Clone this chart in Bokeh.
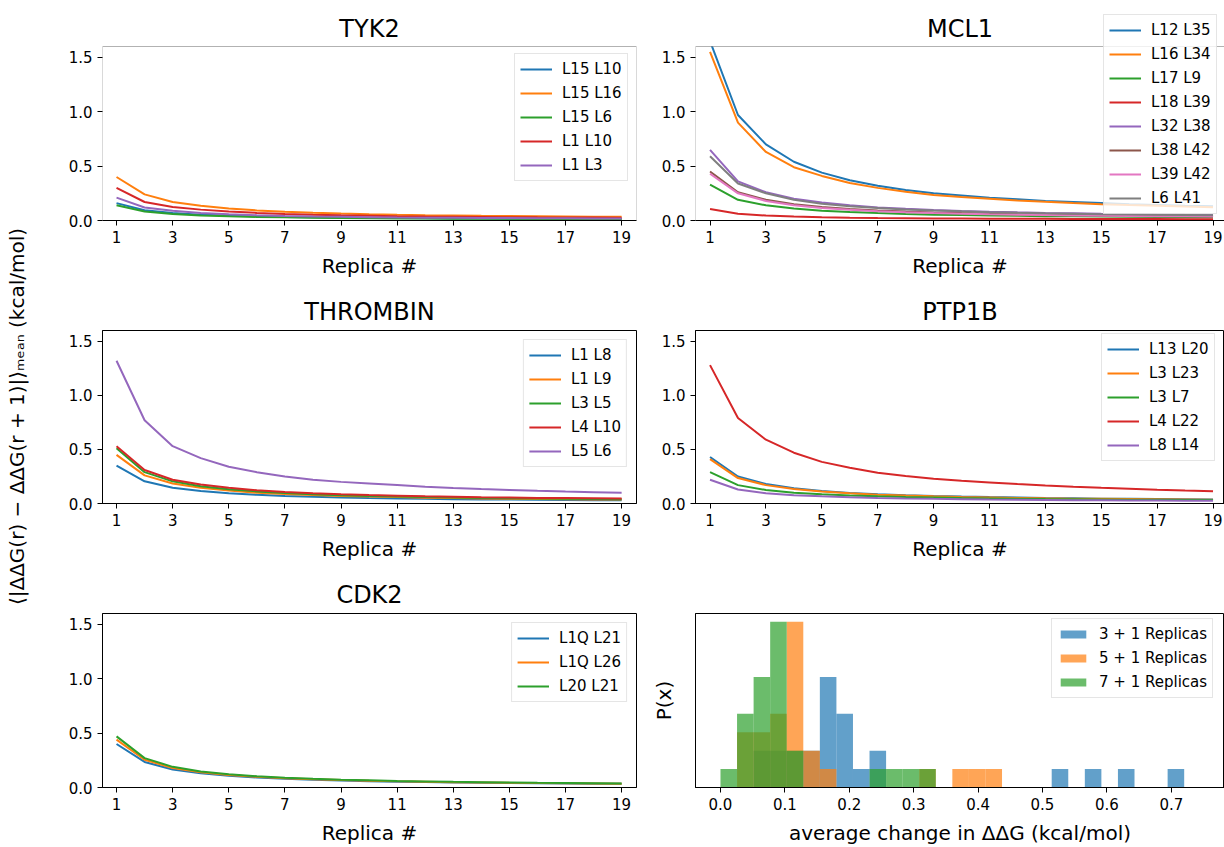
import numpy as np
from bokeh.plotting import figure
from bokeh.models import (Range1d, FixedTicker, PrintfTickFormatter, Legend, LegendItem, Label,
                          BoxAnnotation)
from bokeh.layouts import row, column
from bokeh.embed import file_html
from bokeh.resources import INLINE

FONT = "DejaVu Sans"
COLORS = ['#1f77b4', '#ff7f0e', '#2ca02c', '#d62728', '#9467bd', '#8c564b', '#e377c2', '#7f7f7f']

replicas = list(range(1, 20))
replica_ticks = [1, 3, 5, 7, 9, 11, 13, 15, 17, 19]
y_ticks = [0.0, 0.5, 1.0, 1.5]
Y_TOP = 1.6

# ---------------- TYK2 ----------------
tyk2_labels = ["L15 L10", "L15 L16", "L15 L6", "L1 L10", "L1 L3"]
tyk2_L15_L10 = [0.16, 0.095, 0.068, 0.054, 0.045, 0.038, 0.033, 0.029, 0.026, 0.024, 0.022, 0.020, 0.019, 0.018, 0.017, 0.016, 0.015, 0.014, 0.014]
tyk2_L15_L16 = [0.40, 0.24, 0.17, 0.135, 0.11, 0.093, 0.080, 0.071, 0.064, 0.058, 0.053, 0.049, 0.046, 0.043, 0.041, 0.039, 0.037, 0.035, 0.034]
tyk2_L15_L6 = [0.14, 0.082, 0.060, 0.047, 0.039, 0.033, 0.029, 0.026, 0.023, 0.021, 0.019, 0.018, 0.017, 0.016, 0.015, 0.014, 0.013, 0.013, 0.012]
tyk2_L1_L10 = [0.30, 0.17, 0.125, 0.100, 0.082, 0.070, 0.060, 0.053, 0.048, 0.044, 0.040, 0.037, 0.035, 0.033, 0.031, 0.029, 0.028, 0.027, 0.025]
tyk2_L1_L3 = [0.21, 0.12, 0.090, 0.070, 0.058, 0.049, 0.042, 0.037, 0.034, 0.031, 0.028, 0.026, 0.025, 0.023, 0.022, 0.021, 0.020, 0.019, 0.018]

# ---------------- MCL1 ----------------
mcl1_labels = ["L12 L35", "L16 L34", "L17 L9", "L18 L39", "L32 L38", "L38 L42", "L39 L42", "L6 L41"]
mcl1_L12_L35 = [1.65, 0.97, 0.70, 0.54, 0.44, 0.37, 0.32, 0.28, 0.25, 0.23, 0.21, 0.195, 0.18, 0.17, 0.16, 0.15, 0.143, 0.136, 0.13]
mcl1_L16_L34 = [1.55, 0.90, 0.63, 0.49, 0.41, 0.345, 0.30, 0.265, 0.235, 0.215, 0.20, 0.185, 0.172, 0.16, 0.15, 0.142, 0.135, 0.128, 0.122]
mcl1_L17_L9 = [0.33, 0.19, 0.14, 0.11, 0.09, 0.078, 0.068, 0.060, 0.054, 0.050, 0.046, 0.043, 0.040, 0.038, 0.036, 0.034, 0.032, 0.031, 0.030]
mcl1_L18_L39 = [0.105, 0.062, 0.045, 0.036, 0.030, 0.026, 0.023, 0.021, 0.019, 0.018, 0.017, 0.016, 0.015, 0.014, 0.014, 0.013, 0.013, 0.012, 0.012]
mcl1_L32_L38 = [0.65, 0.36, 0.26, 0.20, 0.165, 0.14, 0.12, 0.108, 0.097, 0.088, 0.081, 0.075, 0.070, 0.066, 0.062, 0.059, 0.056, 0.053, 0.051]
mcl1_L38_L42 = [0.45, 0.26, 0.19, 0.15, 0.125, 0.105, 0.092, 0.082, 0.074, 0.068, 0.063, 0.058, 0.054, 0.051, 0.048, 0.046, 0.044, 0.042, 0.040]
mcl1_L39_L42 = [0.43, 0.25, 0.18, 0.14, 0.115, 0.098, 0.085, 0.076, 0.068, 0.062, 0.057, 0.053, 0.050, 0.047, 0.044, 0.042, 0.040, 0.038, 0.036]
mcl1_L6_L41 = [0.59, 0.34, 0.25, 0.19, 0.155, 0.132, 0.115, 0.102, 0.092, 0.084, 0.077, 0.071, 0.066, 0.062, 0.058, 0.055, 0.052, 0.050, 0.048]

# ---------------- THROMBIN ----------------
thrombin_labels = ["L1 L8", "L1 L9", "L3 L5", "L4 L10", "L5 L6"]
thrombin_L1_L8 = [0.35, 0.205, 0.145, 0.115, 0.095, 0.080, 0.070, 0.062, 0.056, 0.051, 0.047, 0.043, 0.040, 0.038, 0.036, 0.034, 0.032, 0.031, 0.030]
thrombin_L1_L9 = [0.45, 0.26, 0.185, 0.145, 0.12, 0.10, 0.088, 0.078, 0.070, 0.064, 0.059, 0.054, 0.050, 0.047, 0.045, 0.042, 0.040, 0.038, 0.037]
thrombin_L3_L5 = [0.51, 0.29, 0.205, 0.16, 0.132, 0.112, 0.097, 0.086, 0.077, 0.070, 0.064, 0.059, 0.055, 0.052, 0.049, 0.046, 0.044, 0.042, 0.040]
thrombin_L4_L10 = [0.53, 0.31, 0.22, 0.175, 0.145, 0.122, 0.106, 0.094, 0.085, 0.078, 0.072, 0.066, 0.062, 0.058, 0.055, 0.052, 0.050, 0.048, 0.046]
thrombin_L5_L6 = [1.32, 0.77, 0.53, 0.42, 0.34, 0.29, 0.25, 0.22, 0.20, 0.185, 0.17, 0.155, 0.143, 0.133, 0.125, 0.117, 0.11, 0.105, 0.10]

# ---------------- PTP1B ----------------
ptp1b_labels = ["L13 L20", "L3 L23", "L3 L7", "L4 L22", "L8 L14"]
ptp1b_L13_L20 = [0.43, 0.25, 0.18, 0.14, 0.115, 0.098, 0.086, 0.077, 0.070, 0.064, 0.059, 0.055, 0.051, 0.048, 0.045, 0.043, 0.041, 0.039, 0.037]
ptp1b_L3_L23 = [0.41, 0.235, 0.17, 0.135, 0.11, 0.094, 0.082, 0.073, 0.066, 0.060, 0.056, 0.052, 0.048, 0.045, 0.043, 0.041, 0.039, 0.037, 0.035]
ptp1b_L3_L7 = [0.29, 0.17, 0.125, 0.10, 0.085, 0.074, 0.066, 0.060, 0.055, 0.050, 0.047, 0.044, 0.041, 0.039, 0.037, 0.035, 0.034, 0.033, 0.032]
ptp1b_L4_L22 = [1.28, 0.79, 0.59, 0.47, 0.385, 0.33, 0.285, 0.255, 0.23, 0.21, 0.195, 0.18, 0.166, 0.155, 0.145, 0.136, 0.127, 0.12, 0.114]
ptp1b_L8_L14 = [0.22, 0.13, 0.095, 0.077, 0.066, 0.058, 0.052, 0.047, 0.043, 0.040, 0.037, 0.035, 0.033, 0.031, 0.030, 0.028, 0.027, 0.026, 0.025]

# ---------------- CDK2 ----------------
cdk2_labels = ["L1Q L21", "L1Q L26", "L20 L21"]
cdk2_L1Q_L21 = [0.40, 0.235, 0.165, 0.13, 0.108, 0.092, 0.080, 0.071, 0.064, 0.058, 0.054, 0.050, 0.047, 0.044, 0.041, 0.039, 0.037, 0.035, 0.034]
cdk2_L1Q_L26 = [0.44, 0.255, 0.18, 0.14, 0.115, 0.098, 0.085, 0.076, 0.068, 0.062, 0.057, 0.053, 0.049, 0.046, 0.043, 0.041, 0.039, 0.037, 0.035]
cdk2_L20_L21 = [0.47, 0.27, 0.19, 0.148, 0.122, 0.104, 0.090, 0.080, 0.072, 0.066, 0.060, 0.056, 0.052, 0.049, 0.046, 0.043, 0.041, 0.039, 0.037]

# ---------------- Histogram ----------------
hist_labels = ["3 + 1 Replicas", "5 + 1 Replicas", "7 + 1 Replicas"]
hist_bin_edges = np.linspace(0.0, 0.72, 29)
hist_counts_3p1 = [0, 0, 2, 2, 2, 2, 6, 4, 1, 2, 0, 0, 0, 0, 0, 0, 0, 0, 0, 0, 1, 0, 1, 0, 1, 0, 0, 1]
hist_counts_5p1 = [0, 3, 3, 4, 9, 2, 1, 0, 0, 0, 0, 0, 1, 0, 1, 1, 1, 0, 0, 0, 0, 0, 0, 0, 0, 0, 0, 0]
hist_counts_7p1 = [1, 4, 6, 9, 2, 0, 0, 0, 0, 1, 1, 1, 1, 0, 0, 0, 0, 0, 0, 0, 0, 0, 0, 0, 0, 0, 0, 0]
hist_ticks = [0.0, 0.1, 0.2, 0.3, 0.4, 0.5, 0.6, 0.7]

YLABEL = "\u27e8|\u0394\u0394G(r) \u2212 \u0394\u0394G(r + 1)|\u27e9\u2098\u2091\u2090\u2099 (kcal/mol)"

LEFT_BL, LEFT_BR = 72, 10
RIGHT_BL = 49
LEFT_W = LEFT_BL + 534 + LEFT_BR
RIGHT_W = 1224 - 30 - LEFT_W
ROW_H = [283, 283, 281]
ROW_TOP = [46, 47, 47]
ROW_BOTTOM = [63, 63, 60]
RIGHT_XR = (0.48, 19.41)
LEFT_XR = (0.5, 19.53)


def style_axes(p):
    for ax in p.axis:
        ax.axis_line_color = "black"
        ax.major_tick_line_color = "black"
        ax.major_tick_out = 5
        ax.major_tick_in = 0
        ax.minor_tick_line_color = None
        ax.major_label_text_font = FONT
        ax.major_label_text_font_size = "15px"
        ax.major_label_text_color = "black"
        ax.axis_label_text_font = FONT
        ax.axis_label_text_font_size = "20px"
        ax.axis_label_text_font_style = "normal"
        ax.axis_label_text_color = "black"
    p.grid.grid_line_color = None
    p.outline_line_color = "black"
    p.outline_line_alpha = 1.0
    if p.title is not None:
        p.title.text_font = FONT
        p.title.text_font_size = "24px"
        p.title.text_font_style = "normal"
        p.title.text_color = "black"
        p.title.align = "center"


def style_legend(lg, glyph_h=20):
    lg.label_text_font = FONT
    lg.label_text_font_size = "15px"
    lg.label_text_color = "black"
    lg.glyph_width = 32
    lg.glyph_height = glyph_h
    lg.label_height = 20
    lg.label_standoff = 10
    lg.spacing = 4
    lg.padding = 5
    lg.margin = 9
    lg.border_line_color = "#cccccc"
    lg.border_line_width = 1
    lg.background_fill_alpha = 0.8


def line_panel(title, labels, series, col, r, legend_loc, tall=False):
    if col == 0:
        w, bl, br, xr = LEFT_W, LEFT_BL, LEFT_BR, LEFT_XR
    else:
        w, bl, br, xr = RIGHT_W, RIGHT_BL, 0, RIGHT_XR
    frame_h = ROW_H[r] - ROW_BOTTOM[r]
    y_end = Y_TOP * frame_h / (frame_h - ROW_TOP[r])
    if tall:
        # frame reaches the top of the canvas so that a legend may rise above the axes box
        p = figure(width=w, height=ROW_H[r], toolbar_location=None, output_backend="svg",
                   x_range=Range1d(*xr), y_range=Range1d(0, y_end), title_location=None,
                   min_border_left=bl, min_border_right=br,
                   min_border_top=0, min_border_bottom=ROW_BOTTOM[r])
    else:
        p = figure(width=w, height=ROW_H[r], title=title, toolbar_location=None,
                   output_backend="svg", x_range=Range1d(*xr), y_range=Range1d(0, Y_TOP),
                   min_border_left=bl, min_border_right=br,
                   min_border_top=ROW_TOP[r], min_border_bottom=ROW_BOTTOM[r])
    items = []
    for i, (lab, vals) in enumerate(zip(labels, series)):
        rr = p.line(replicas, vals, line_color=COLORS[i], line_width=2)
        items.append(LegendItem(label=lab, renderers=[rr]))
    p.xaxis.ticker = FixedTicker(ticks=replica_ticks)
    p.yaxis.ticker = FixedTicker(ticks=y_ticks)
    p.yaxis.formatter = PrintfTickFormatter(format="%.1f")
    p.xaxis.axis_label = "Replica #"
    p.xaxis.axis_label_standoff = 8
    style_axes(p)
    if tall:
        p.outline_line_color = None
        p.yaxis.axis_line_color = None
        p.add_layout(BoxAnnotation(bottom=Y_TOP, fill_color="white", fill_alpha=1.0,
                                   line_color=None))
        p.add_layout(BoxAnnotation(bottom=0, top=Y_TOP, fill_alpha=0.0, fill_color=None,
                                   line_color="black", line_width=1))
        title_y = y_end * (frame_h - 28) / frame_h
        p.add_layout(Label(x=(xr[0] + xr[1]) / 2, y=title_y, text=title, text_align="center",
                           text_baseline="middle", text_font=FONT, text_font_size="24px",
                           text_color="black"))
    lg = Legend(items=items)
    style_legend(lg)
    lg.location = legend_loc
    p.add_layout(lg)
    return p


p_tyk2 = line_panel("TYK2", tyk2_labels,
                    [tyk2_L15_L10, tyk2_L15_L16, tyk2_L15_L6, tyk2_L1_L10, tyk2_L1_L3], 0, 0,
                    (412, 39), tall=True)
p_mcl1 = line_panel("MCL1", mcl1_labels,
                    [mcl1_L12_L35, mcl1_L16_L34, mcl1_L17_L9, mcl1_L18_L39, mcl1_L32_L38,
                     mcl1_L38_L42, mcl1_L39_L42, mcl1_L6_L41], 1, 0, (408, 6), tall=True)
p_thr = line_panel("THROMBIN", thrombin_labels,
                   [thrombin_L1_L8, thrombin_L1_L9, thrombin_L3_L5, thrombin_L4_L10, thrombin_L5_L6], 0, 1, "top_right")
p_ptp = line_panel("PTP1B", ptp1b_labels,
                   [ptp1b_L13_L20, ptp1b_L3_L23, ptp1b_L3_L7, ptp1b_L4_L22, ptp1b_L8_L14], 1, 1, (406, 42))
p_cdk = line_panel("CDK2", cdk2_labels,
                   [cdk2_L1Q_L21, cdk2_L1Q_L26, cdk2_L20_L21], 0, 2, "top_right")

# histogram panel
p_hist = figure(width=RIGHT_W, height=ROW_H[2], toolbar_location=None, output_backend="svg",
                x_range=Range1d(-0.0388, 0.7826), y_range=Range1d(0, 9.45),
                min_border_left=RIGHT_BL, min_border_right=0,
                min_border_top=ROW_TOP[2], min_border_bottom=ROW_BOTTOM[2])
lefts = hist_bin_edges[:-1]
rights = hist_bin_edges[1:]
hitems = []
for i, (lab, counts) in enumerate(zip(hist_labels, [hist_counts_3p1, hist_counts_5p1, hist_counts_7p1])):
    c = np.array(counts, dtype=float)
    m = c > 0
    rr = p_hist.quad(left=lefts[m], right=rights[m], bottom=0, top=c[m],
                     fill_color=COLORS[i], fill_alpha=0.7, line_color=None)
    hitems.append(LegendItem(label=lab, renderers=[rr]))
p_hist.xaxis.ticker = FixedTicker(ticks=hist_ticks)
p_hist.xaxis.formatter = PrintfTickFormatter(format="%.1f")
p_hist.xaxis.axis_label = "average change in \u0394\u0394G (kcal/mol)"
p_hist.xaxis.axis_label_standoff = 8
p_hist.yaxis.ticker = FixedTicker(ticks=[])
p_hist.yaxis.axis_label = "P(x)"
style_axes(p_hist)
p_hist.yaxis.major_tick_out = 0
p_hist.yaxis.major_label_standoff = 0
p_hist.yaxis.axis_label_standoff = 20
hl = Legend(items=hitems)
style_legend(hl, glyph_h=10)
hl.location = (356, 89)
p_hist.add_layout(hl)

# shared y label
p_lab = figure(width=30, height=sum(ROW_H), toolbar_location=None, output_backend="svg",
               x_range=Range1d(0, 30), y_range=Range1d(0, sum(ROW_H)),
               x_axis_location=None, y_axis_location=None, min_border=0)
p_lab.outline_line_color = None
p_lab.grid.grid_line_color = None
p_lab.add_layout(Label(x=16, y=sum(ROW_H) - 416, text=YLABEL, angle=np.pi / 2,
                       text_align="center", text_baseline="middle",
                       text_font=FONT, text_font_size="20px", text_color="black"))

grid = column(row(p_tyk2, p_mcl1), row(p_thr, p_ptp), row(p_cdk, p_hist))
layout = row(p_lab, grid)

open("out.html", "w").write(file_html(layout, INLINE))
